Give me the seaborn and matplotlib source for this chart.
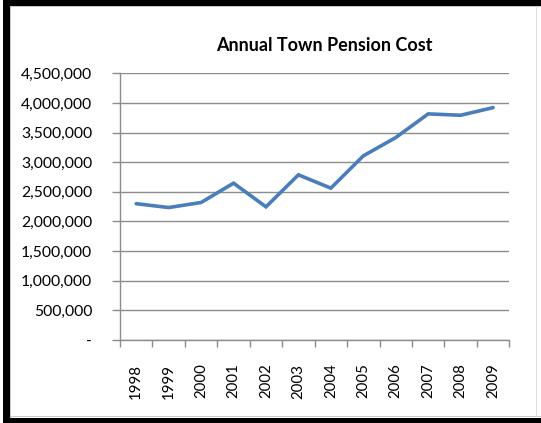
import matplotlib
matplotlib.use("Agg")
import matplotlib.pyplot as plt
import seaborn as sns
import pandas as pd
from matplotlib.patches import Rectangle
from matplotlib.ticker import FuncFormatter, FixedLocator

years = ["1998", "1999", "2000", "2001", "2002", "2003",
         "2004", "2005", "2006", "2007", "2008", "2009"]
cost = [2300000, 2235000, 2320000, 2646000, 2247000, 2787000,
        2562000, 3107000, 3416000, 3815000, 3792000, 3921000]
y_ticks = [0, 500000, 1000000, 1500000, 2000000, 2500000,
           3000000, 3500000, 4000000, 4500000]
title = "Annual Town Pension Cost"

df = pd.DataFrame({"year": years, "cost": cost})

sns.set_theme(style="white")
plt.rcParams["font.family"] = ["Lato", "DejaVu Sans"]

fig = plt.figure(figsize=(5.41, 4.23), dpi=100)
W, H = 541, 423

# frame: dark border with a thin grey inner edge
def px_rect(x0, y0, x1, y1, color, z=0):
    fig.patches.append(Rectangle((x0 / W, 1 - y1 / H), (x1 - x0) / W, (y1 - y0) / H,
                                 transform=fig.transFigure, color=color,
                                 zorder=z, lw=0))

px_rect(3, 0, 541, 6, "black")
px_rect(3, 0, 10, 423, "black")
px_rect(3, 418, 541, 423, "black")
px_rect(10, 6, 11, 418, "#c8c8c8")
px_rect(10, 6, 541, 7, "#c8c8c8")
px_rect(10, 416, 541, 417, "#c8c8c8")
px_rect(536, 6, 537, 417, "#dcdcdc")

ax = fig.add_axes([120 / W, 1 - 340 / H, (509.3 - 120) / W, (340 - 73.3) / H])

x_pos = list(range(len(years)))
sns.lineplot(x=x_pos, y=df["cost"], ax=ax, color="#4A7EBB", linewidth=2.6,
             solid_joinstyle="miter")

ax.set_xlim(-0.5, len(years) - 0.5)
ax.set_ylim(0, 4500000)
ax.set_yticks(y_ticks)
ax.yaxis.set_major_formatter(FuncFormatter(lambda v, p: "-" if v == 0 else f"{int(v):,}"))
ax.yaxis.grid(True, color="#8c8c8c", linewidth=1.0)
ax.set_axisbelow(True)

ax.set_xticks(x_pos)
ax.set_xticklabels(years, rotation=90, fontsize=10.8)
ax.xaxis.set_minor_locator(FixedLocator([i - 0.5 for i in range(len(years) + 1)]))
ax.tick_params(axis="x", which="major", length=0, pad=17)
ax.tick_params(axis="x", which="minor", length=5, width=1, color="#8c8c8c", direction="out", bottom=True)
ax.tick_params(axis="y", which="major", length=6, width=1, color="#8c8c8c", direction="out",
               left=True, labelsize=11.3, pad=14)

for side in ["top", "right"]:
    ax.spines[side].set_visible(False)
for side in ["left", "bottom"]:
    ax.spines[side].set_color("#8c8c8c")
    ax.spines[side].set_linewidth(1.0)

ax.set_xlabel("")
ax.set_ylabel("")
ax.set_title(title, fontsize=13, fontweight="bold", pad=16, color="black", x=0.524)

for lab in ax.get_xticklabels() + ax.get_yticklabels():
    lab.set_color("black")

fig.savefig("out.png", dpi=100)
